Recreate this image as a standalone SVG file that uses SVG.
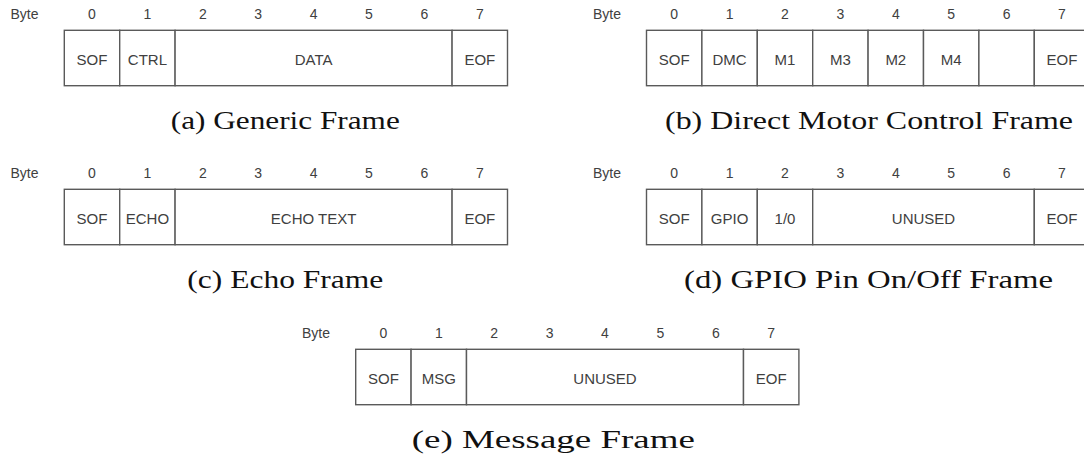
<svg xmlns="http://www.w3.org/2000/svg" width="1084" height="458" viewBox="0 0 1084 458">
<style>
.bg{fill:#ffffff}
.cell{fill:#ffffff;stroke:#5a5a5a;stroke-width:1.4}
.lbl{font-family:"Liberation Sans",Arial,sans-serif;font-size:15px;fill:#404040;text-anchor:middle}
.num{font-family:"Liberation Sans",Arial,sans-serif;font-size:14px;fill:#404040;text-anchor:middle}
.byte{font-family:"Liberation Sans",Arial,sans-serif;font-size:14px;fill:#404040}
.cap{font-family:"Liberation Serif","Times New Roman",serif;font-size:25px;fill:#111111;text-anchor:middle}
</style>
<rect class="bg" x="0" y="0" width="1084" height="458"/>

<g id="frame-a">
<text class="byte" x="10.5" y="19.3">Byte</text>
<text class="num" x="92" y="19.3">0</text><text class="num" x="147.4" y="19.3">1</text><text class="num" x="202.8" y="19.3">2</text><text class="num" x="258.2" y="19.3">3</text><text class="num" x="313.6" y="19.3">4</text><text class="num" x="369" y="19.3">5</text><text class="num" x="424.4" y="19.3">6</text><text class="num" x="479.8" y="19.3">7</text>
<rect class="cell" x="64.3" y="30.3" width="55.4" height="55.4"/>
<rect class="cell" x="119.7" y="30.3" width="55.4" height="55.4"/>
<rect class="cell" x="175.1" y="30.3" width="277" height="55.4"/>
<rect class="cell" x="452.1" y="30.3" width="55.4" height="55.4"/>
<text class="lbl" x="92" y="65">SOF</text><text class="lbl" x="147.4" y="65">CTRL</text><text class="lbl" x="313.6" y="65">DATA</text><text class="lbl" x="479.8" y="65">EOF</text>
<text class="cap" x="285.3" y="129" textLength="229" lengthAdjust="spacingAndGlyphs">(a) Generic Frame</text>
</g>

<g id="frame-b">
<text class="byte" x="593" y="19.3">Byte</text>
<text class="num" x="674.2" y="19.3">0</text><text class="num" x="729.6" y="19.3">1</text><text class="num" x="785" y="19.3">2</text><text class="num" x="840.4" y="19.3">3</text><text class="num" x="895.8" y="19.3">4</text><text class="num" x="951.2" y="19.3">5</text><text class="num" x="1006.6" y="19.3">6</text><text class="num" x="1062" y="19.3">7</text>
<rect class="cell" x="646.5" y="30.3" width="55.4" height="55.4"/>
<rect class="cell" x="701.9" y="30.3" width="55.4" height="55.4"/>
<rect class="cell" x="757.3" y="30.3" width="55.4" height="55.4"/>
<rect class="cell" x="812.7" y="30.3" width="55.4" height="55.4"/>
<rect class="cell" x="868.1" y="30.3" width="55.4" height="55.4"/>
<rect class="cell" x="923.5" y="30.3" width="55.4" height="55.4"/>
<rect class="cell" x="978.9" y="30.3" width="55.4" height="55.4"/>
<rect class="cell" x="1034.3" y="30.3" width="55.4" height="55.4"/>
<text class="lbl" x="674.2" y="65">SOF</text><text class="lbl" x="729.6" y="65">DMC</text><text class="lbl" x="785" y="65">M1</text><text class="lbl" x="840.4" y="65">M3</text><text class="lbl" x="895.8" y="65">M2</text><text class="lbl" x="951.2" y="65">M4</text><text class="lbl" x="1062" y="65">EOF</text>
<text class="cap" x="869" y="129" textLength="408" lengthAdjust="spacingAndGlyphs">(b) Direct Motor Control Frame</text>
</g>

<g id="frame-c">
<text class="byte" x="10.5" y="178.3">Byte</text>
<text class="num" x="92" y="178.3">0</text><text class="num" x="147.4" y="178.3">1</text><text class="num" x="202.8" y="178.3">2</text><text class="num" x="258.2" y="178.3">3</text><text class="num" x="313.6" y="178.3">4</text><text class="num" x="369" y="178.3">5</text><text class="num" x="424.4" y="178.3">6</text><text class="num" x="479.8" y="178.3">7</text>
<rect class="cell" x="64.3" y="189.3" width="55.4" height="55.4"/>
<rect class="cell" x="119.7" y="189.3" width="55.4" height="55.4"/>
<rect class="cell" x="175.1" y="189.3" width="277" height="55.4"/>
<rect class="cell" x="452.1" y="189.3" width="55.4" height="55.4"/>
<text class="lbl" x="92" y="224">SOF</text><text class="lbl" x="147.4" y="224">ECHO</text><text class="lbl" x="313.6" y="224">ECHO TEXT</text><text class="lbl" x="479.8" y="224">EOF</text>
<text class="cap" x="285.3" y="288" textLength="196" lengthAdjust="spacingAndGlyphs">(c) Echo Frame</text>
</g>

<g id="frame-d">
<text class="byte" x="593" y="178.3">Byte</text>
<text class="num" x="674.2" y="178.3">0</text><text class="num" x="729.6" y="178.3">1</text><text class="num" x="785" y="178.3">2</text><text class="num" x="840.4" y="178.3">3</text><text class="num" x="895.8" y="178.3">4</text><text class="num" x="951.2" y="178.3">5</text><text class="num" x="1006.6" y="178.3">6</text><text class="num" x="1062" y="178.3">7</text>
<rect class="cell" x="646.5" y="189.3" width="55.4" height="55.4"/>
<rect class="cell" x="701.9" y="189.3" width="55.4" height="55.4"/>
<rect class="cell" x="757.3" y="189.3" width="55.4" height="55.4"/>
<rect class="cell" x="812.7" y="189.3" width="221.6" height="55.4"/>
<rect class="cell" x="1034.3" y="189.3" width="55.4" height="55.4"/>
<text class="lbl" x="674.2" y="224">SOF</text><text class="lbl" x="729.6" y="224">GPIO</text><text class="lbl" x="785" y="224">1/0</text><text class="lbl" x="923.5" y="224">UNUSED</text><text class="lbl" x="1062" y="224">EOF</text>
<text class="cap" x="868.5" y="288" textLength="369" lengthAdjust="spacingAndGlyphs">(d) GPIO Pin On/Off Frame</text>
</g>

<g id="frame-e">
<text class="byte" x="302" y="338.3">Byte</text>
<text class="num" x="383.4" y="338.3">0</text><text class="num" x="438.8" y="338.3">1</text><text class="num" x="494.2" y="338.3">2</text><text class="num" x="549.6" y="338.3">3</text><text class="num" x="605" y="338.3">4</text><text class="num" x="660.4" y="338.3">5</text><text class="num" x="715.8" y="338.3">6</text><text class="num" x="771.2" y="338.3">7</text>
<rect class="cell" x="355.7" y="349.3" width="55.4" height="55.4"/>
<rect class="cell" x="411.1" y="349.3" width="55.4" height="55.4"/>
<rect class="cell" x="466.5" y="349.3" width="277" height="55.4"/>
<rect class="cell" x="743.5" y="349.3" width="55.4" height="55.4"/>
<text class="lbl" x="383.4" y="384">SOF</text><text class="lbl" x="438.8" y="384">MSG</text><text class="lbl" x="605" y="384">UNUSED</text><text class="lbl" x="771.2" y="384">EOF</text>
<text class="cap" x="553.3" y="448" textLength="283" lengthAdjust="spacingAndGlyphs">(e) Message Frame</text>
</g>
</svg>
